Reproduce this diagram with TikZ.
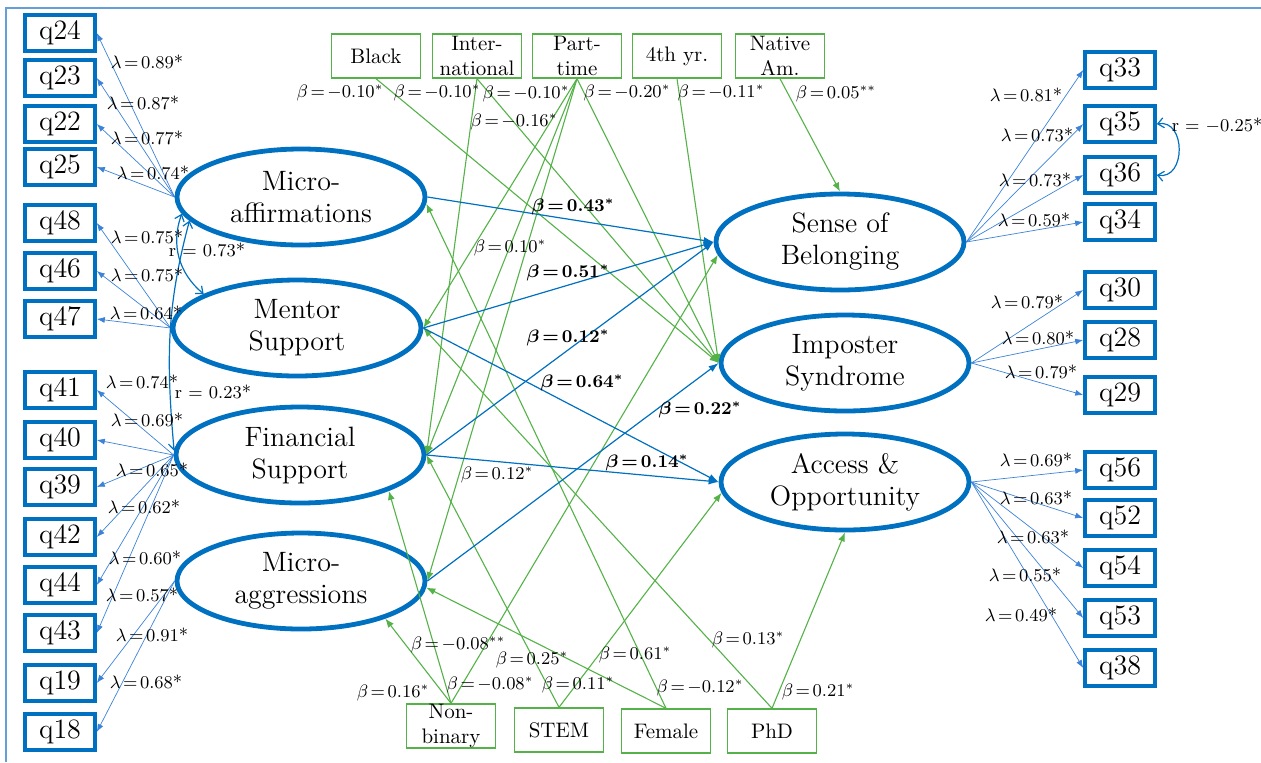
\documentclass[tikz,border=0pt]{standalone}
\usetikzlibrary{shapes.geometric,arrows.meta}
\definecolor{semblue}{RGB}{0,112,192}
\definecolor{loadblue}{RGB}{60,130,215}
\definecolor{covgreen}{RGB}{84,178,72}
\definecolor{framebl}{RGB}{100,160,215}
\thickmuskip=2.5mu
\begin{document}
\begin{tikzpicture}[x=0.5pt,y=-0.5pt,
  qbox/.style={draw=semblue, line width=1.8pt, minimum width=35pt, minimum height=18pt, inner sep=0pt, font=\fontsize{14}{16}\selectfont},
  latent/.style={ellipse, draw=semblue, line width=2.4pt, minimum width=124pt, minimum height=48pt, inner sep=0pt, align=center, font=\fontsize{14}{16}\selectfont},
  covbox/.style={draw=covgreen, line width=0.7pt, minimum width=44.5pt, minimum height=22pt, inner sep=0pt, align=center, font=\fontsize{10.5}{12.5}\selectfont},
  load/.style={draw=loadblue, line width=0.35pt, -{Latex[length=4pt,width=3pt]}},
  reg/.style={draw=semblue, line width=0.6pt, -{Latex[length=5pt,width=3.5pt]}},
  grn/.style={draw=covgreen, line width=0.55pt, -{Latex[length=4.5pt,width=3.5pt]}},
  corr/.style={draw=semblue, line width=0.6pt, {Straight Barb[length=3pt,width=5pt]}-{Straight Barb[length=3pt,width=5pt]}},
  lab/.style={inner sep=0pt, font=\fontsize{9}{10.5}\selectfont},
  boldlab/.style={inner sep=0pt, font=\fontsize{9}{10.5}\selectfont\boldmath}]
  \useasboundingbox (0,0) rectangle (1261,762);
  \draw[framebl, line width=0.6pt] (6,762) -- (6,8) -- (1261,8);

  \node[latent] (maff) at (301,197) {Micro-\\affirmations};
  \node[latent] (mentor) at (297,328) {Mentor\\Support};
  \node[latent] (fin) at (300,455) {Financial\\Support};
  \node[latent] (magg) at (301,581) {Micro-\\aggressions};
  \node[latent] (sob) at (840,242) {Sense of\\Belonging};
  \node[latent] (imp) at (845,363) {Imposter\\Syndrome};
  \node[latent] (acc) at (845,482) {Access \&\\Opportunity};

  \foreach \n/\y in {24/33,23/78,22/124,25/167,48/223,46/271,47/319,41/390,40/440,39/487,42/537,44/585,43/633,19/683,18/732}
    \node[qbox] (q\n) at (60,\y) {q\n};
  \foreach \n/\y in {33/70,35/124,36/175,34/222,30/290,28/340,29/395,56/470,52/518,54/568,53/618,38/668}
    \node[qbox] (q\n) at (1120,\y) {q\n};

  \node[covbox] (black) at (376,56) {Black};
  \node[covbox] (intl) at (477,56) {Inter-\\national};
  \node[covbox] (part) at (577,56) {Part-\\time};
  \node[covbox] (fourth) at (677,56) {4th yr.};
  \node[covbox] (native) at (780,56) {Native\\Am.};
  \node[covbox] (nonbin) at (451,726) {Non-\\binary};
  \node[covbox] (stem) at (559,730) {STEM};
  \node[covbox] (female) at (666,731) {Female};
  \node[covbox] (phd) at (772,731) {PhD};

  \foreach \n in {24,23,22,25} \draw[load] (maff.west) -- (q\n.east);
  \foreach \n in {48,46,47} \draw[load] (mentor.west) -- (q\n.east);
  \foreach \n in {41,40,39,42,44,43} \draw[load] (fin.west) -- (q\n.east);
  \foreach \n in {19,18} \draw[load] (magg.west) -- (q\n.east);
  \foreach \n in {33,35,36,34} \draw[load] (sob.east) -- (q\n.west);
  \foreach \n in {30,28,29} \draw[load] (imp.east) -- (q\n.west);
  \foreach \n in {56,52,54,53,38} \draw[load] (acc.east) -- (q\n.west);

  \draw[grn] (black.south) -- (imp.west);
  \draw[grn] (intl.south) -- (fin.east);
  \draw[grn] (intl.south) -- (imp.west);
  \draw[grn] (part.south) -- (mentor.east);
  \draw[grn] (part.south) -- (fin.east);
  \draw[grn] (part.south) -- (magg.east);
  \draw[grn] (part.south) -- (imp.west);
  \draw[grn] (fourth.south) -- (imp.west);
  \draw[grn] (native.south) -- (sob.north);
  \draw[grn] (nonbin.north) -- (magg.-24);
  \draw[grn] (nonbin.north) -- (fin.-22);
  \draw[grn] (nonbin.north) -- (sob.186);
  \draw[grn] (stem.north) -- (fin.east);
  \draw[grn] (stem.north) -- (acc.185);
  \draw[grn] (female.north) -- (maff.-3);
  \draw[grn] (female.north) -- (magg.-3);
  \draw[grn] (phd.north) -- (mentor.east);
  \draw[grn] (phd.north) -- (acc.south);

  \draw[reg] (maff.east) -- (sob.west);
  \draw[reg] (mentor.east) -- (sob.west);
  \draw[reg] (fin.east) -- (sob.west);
  \draw[reg] (mentor.east) -- (acc.west);
  \draw[reg] (magg.east) -- (imp.west);
  \draw[reg] (fin.east) -- (acc.west);

  \draw[corr] (maff.188) to[out=-110,in=140] (mentor.160);
  \draw[corr] (maff.192) to[out=-105,in=95] (fin.178);
  \draw[corr] (q35.east) to[out=10,in=-10,looseness=1.5] (q36.east);

  \foreach \n/\x/\y/\v in {24/147/62/0.89,23/143/103/0.87,22/147/138/0.77,25/153/173/0.74,48/147/237/0.75,46/147/275/0.75,47/146/313/0.64,41/142/382/0.74,40/147/420/0.69,39/152/470/0.65,42/144/507/0.62,44/145/558/0.60,43/142/595/0.57,19/152/635/0.91,18/146/682/0.68,33/1026/95/0.81,35/1037/135/0.73,36/1035/180/0.73,34/1034/220/0.59,30/1027/302/0.79,28/1038/338/0.80,29/1041/372/0.79,56/1036/460/0.69,52/1036/498/0.63,54/1033/537/0.63,53/1025/575/0.55,38/1021/615/0.49}
    \node[lab] (lam\n) at (\x,\y) {$\lambda = \v$*};

  \node[lab] (rmm) at (207,250) {r = 0.73*};
  \node[lab] (rmf) at (213,392) {r = 0.23*};
  \node[lab] (rqq) at (1217,126) {r = $-$0.25*};

  \node[lab] (bblack) at (340,93) {$\beta = -0.10^{*}$};
  \node[lab] (bintl) at (437,93) {$\beta = -0.10^{*}$};
  \node[lab] (bpart) at (526,94) {$\beta = -0.10^{*}$};
  \node[lab] (bintlimp) at (514,122) {$\beta = -0.16^{*}$};
  \node[lab] (bpartimp) at (627,93) {$\beta = -0.20^{*}$};
  \node[lab] (bfourth) at (721,93) {$\beta = -0.11^{*}$};
  \node[lab] (bnative) at (836,94) {$\beta = 0.05^{**}$};
  \node[lab] (bpartfin) at (510,248) {$\beta = 0.10^{*}$};
  \node[lab] (bpartmagg) at (497,475) {$\beta = 0.12^{*}$};

  \node[boldlab] (bmaffsob) at (573,207) {$\beta = 0.43^{*}$};
  \node[boldlab] (bmentsob) at (568,273) {$\beta = 0.51^{*}$};
  \node[boldlab] (bfinsob) at (568,338) {$\beta = 0.12^{*}$};
  \node[boldlab] (bmentacc) at (582,383) {$\beta = 0.64^{*}$};
  \node[boldlab] (bmaggimp) at (700,410) {$\beta = 0.22^{*}$};
  \node[boldlab] (bfinacc) at (647,463) {$\beta = 0.14^{*}$};

  \node[lab] (bnbmagg) at (393,693) {$\beta = 0.16^{*}$};
  \node[lab] (bnbfin) at (458,645) {$\beta = -0.08^{**}$};
  \node[lab] (bnbsob) at (490,685) {$\beta = -0.08^{*}$};
  \node[lab] (bstemfin) at (532,660) {$\beta = 0.25^{*}$};
  \node[lab] (bstemacc) at (578,685) {$\beta = 0.11^{*}$};
  \node[lab] (bfemmaff) at (635,655) {$\beta = 0.61^{*}$};
  \node[lab] (bfemmagg) at (700,688) {$\beta = -0.12^{*}$};
  \node[lab] (bphdment) at (748,640) {$\beta = 0.13^{*}$};
  \node[lab] (bphdacc) at (818,692) {$\beta = 0.21^{*}$};
\end{tikzpicture}
\end{document}
